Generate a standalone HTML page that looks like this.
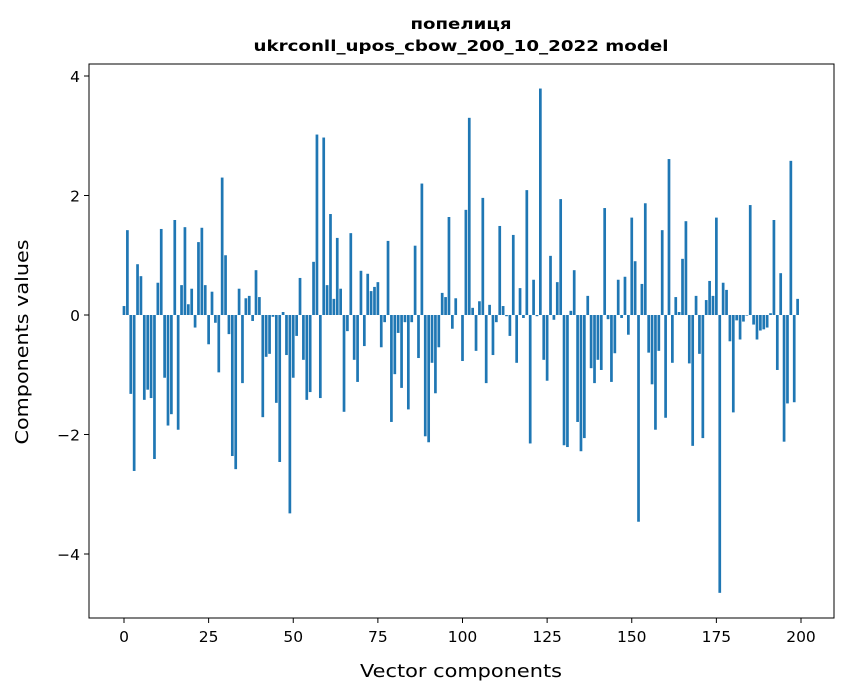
<!DOCTYPE html>
<html><head><meta charset="utf-8"><style>
body{margin:0;background:#fff;}
svg{display:block;font-family:"DejaVu Sans","Liberation Sans",sans-serif;}
</style></head><body>
<svg id="chart" width="847" height="696" viewBox="0 0 847 696" xmlns="http://www.w3.org/2000/svg">
<rect width="847" height="696" fill="#fff"/>
<text x="461" y="29" text-anchor="middle" font-size="15" font-weight="bold" textLength="101" lengthAdjust="spacingAndGlyphs">попелиця</text>
<text x="461" y="51" text-anchor="middle" font-size="15" font-weight="bold" textLength="415" lengthAdjust="spacingAndGlyphs">ukrconll_upos_cbow_200_10_2022 model</text>
<g id="bars"></g>
<g id="xticks"></g>
<g id="yticks"></g>
<rect x="89" y="64" width="745" height="554" fill="none" stroke="#000" stroke-width="1"/>
<text x="461" y="677" text-anchor="middle" font-size="18" textLength="202" lengthAdjust="spacingAndGlyphs">Vector components</text>
<text x="28" y="342" text-anchor="middle" font-size="18" textLength="205" lengthAdjust="spacingAndGlyphs" transform="rotate(-90 28 342)">Components values</text>
</svg>
<script>
const values = [0.15,1.42,-1.32,-2.61,0.85,0.65,-1.42,-1.25,-1.39,-2.41,
0.54,1.44,-1.05,-1.85,-1.66,1.59,-1.92,0.5,1.47,0.18,
0.44,-0.21,1.22,1.46,0.5,-0.49,0.39,-0.13,-0.96,2.3,
1.0,-0.32,-2.36,-2.58,0.44,-1.14,0.28,0.32,-0.1,0.75,
0.3,-1.71,-0.7,-0.65,-0.03,-1.47,-2.46,0.05,-0.67,-3.32,
-1.05,-0.35,0.62,-0.75,-1.42,-1.29,0.89,3.02,-1.39,2.97,
0.5,1.69,0.27,1.29,0.44,-1.62,-0.27,1.37,-0.75,-1.12,
0.74,-0.52,0.69,0.4,0.47,0.55,-0.54,-0.12,1.24,-1.79,
-0.99,-0.3,-1.22,-0.12,-1.58,-0.12,1.16,-0.72,2.2,-2.03,
-2.13,-0.8,-1.31,-0.54,0.37,0.3,1.64,-0.23,0.28,0.0,
-0.77,1.76,3.3,0.12,-0.6,0.23,1.96,-1.14,0.17,-0.67,
-0.12,1.49,0.15,-0.02,-0.35,1.34,-0.8,0.45,-0.05,2.09,
-2.15,0.59,-0.02,3.79,-0.75,-1.1,0.99,-0.08,0.55,1.94,
-2.18,-2.21,0.07,0.75,-1.79,-2.28,-2.06,0.32,-0.89,-1.14,
-0.75,-0.92,1.79,-0.07,-1.12,-0.64,0.59,-0.05,0.64,-0.33,
1.63,0.9,-3.46,0.52,1.87,-0.63,-1.16,-1.92,-0.6,1.42,
-1.72,2.61,-0.8,0.3,0.05,0.94,1.57,-0.81,-2.19,0.32,
-0.65,-2.06,0.25,0.57,0.32,1.63,-4.65,0.54,0.42,-0.44,
-1.63,-0.09,-0.41,-0.11,-0.01,1.84,-0.16,-0.41,-0.26,-0.24,
-0.21,0.03,1.59,-0.92,0.7,-2.12,-1.48,2.58,-1.46,0.27];
const xTickLabels = [0,25,50,75,100,125,150,175,200];
const yTickLabels = [-4,-2,0,2,4];

const NS = "http://www.w3.org/2000/svg";
function xScale(v){ return 124 + (801-124)*v/200; }
function yScale(v){ return 315 - 59.75*v; }
const barsG = document.getElementById('bars');
values.forEach((v,i)=>{
  const r = document.createElementNS(NS,'rect');
  const w = 0.8*(xScale(1)-xScale(0));
  r.setAttribute('x', xScale(i)-w/2);
  r.setAttribute('width', w);
  r.setAttribute('y', Math.min(yScale(v), yScale(0)));
  r.setAttribute('height', Math.abs(yScale(v)-yScale(0)));
  r.setAttribute('fill', '#1f77b4');
  
  
  barsG.appendChild(r);
});
const xg = document.getElementById('xticks');
xTickLabels.forEach(t=>{
  const x = xScale(t);
  const l = document.createElementNS(NS,'line');
  l.setAttribute('x1',x);l.setAttribute('x2',x);l.setAttribute('y1',618);l.setAttribute('y2',623);
  l.setAttribute('stroke','#000');
  
  
  xg.appendChild(l);
  const tx = document.createElementNS(NS,'text');
  tx.setAttribute('x',x);tx.setAttribute('y',642);tx.setAttribute('text-anchor','middle');tx.setAttribute('font-size','15.5');
  tx.textContent = t;
  
  
  xg.appendChild(tx);
});
const yg = document.getElementById('yticks');
yTickLabels.forEach(t=>{
  const y = yScale(t);
  const l = document.createElementNS(NS,'line');
  l.setAttribute('x1',84);l.setAttribute('x2',89);l.setAttribute('y1',y);l.setAttribute('y2',y);
  l.setAttribute('stroke','#000');
  
  
  yg.appendChild(l);
  const tx = document.createElementNS(NS,'text');
  tx.setAttribute('x',80);tx.setAttribute('y',y+6);tx.setAttribute('text-anchor','end');tx.setAttribute('font-size','15.5');
  tx.textContent = t < 0 ? '\u2212' + Math.abs(t) : String(t);
  
  
  yg.appendChild(tx);
});
</script>
</body></html>
